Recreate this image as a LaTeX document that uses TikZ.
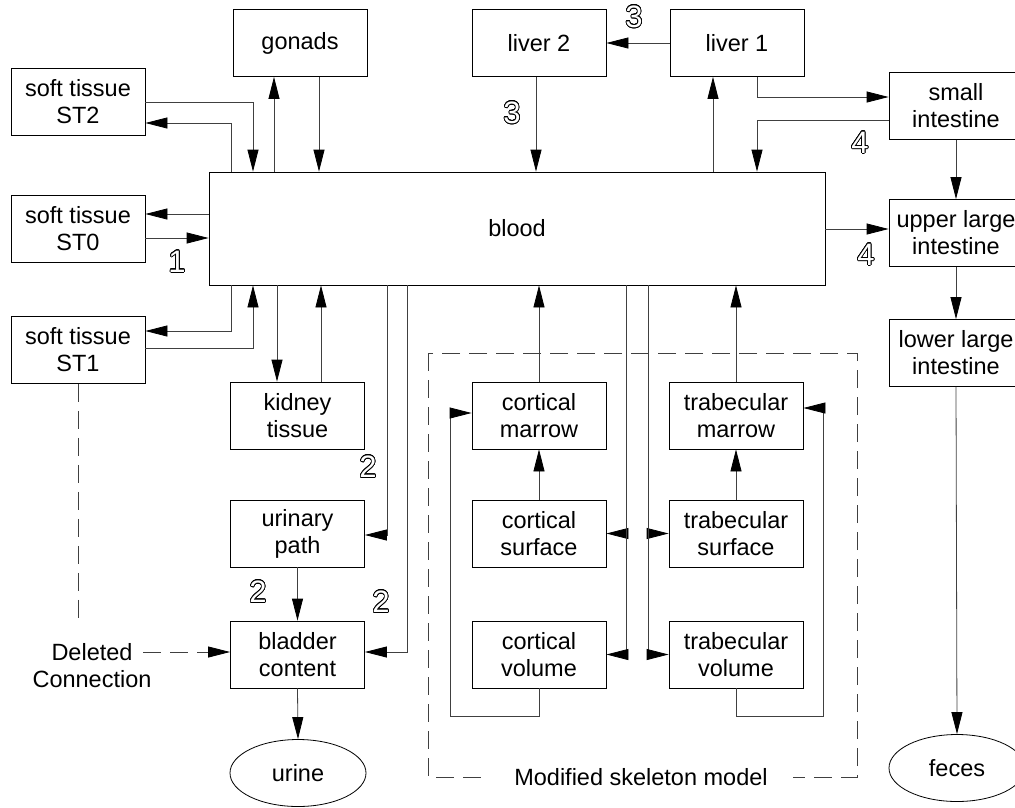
\documentclass[tikz,border=0pt]{standalone}
\usepackage{fontspec}
\setmainfont{Liberation Sans}
\usepackage[copies]{contour}
\contourlength{0.7pt}
\contournumber{24}
\usetikzlibrary{arrows.meta,shapes.geometric}
\newcommand{\hollow}[1]{\contour{black}{\textcolor{white}{#1}}}
\begin{document}
\begin{tikzpicture}[x=1pt,y=-1pt,
    font=\fontsize{23.5}{27}\selectfont,
    box/.style={draw, line width=0.8pt, minimum width=134pt, minimum height=67pt, inner sep=2pt, align=center},
    pool/.style={draw, line width=0.8pt, ellipse, minimum width=136pt, minimum height=67pt, inner sep=0pt},
    num/.style={font=\fontsize{31}{31}\selectfont, inner sep=0pt},
    flow/.style={draw=black!75, line width=0.8pt, -{Triangle[length=22pt,width=11pt,black]}},
    gone/.style={draw=black!75, line width=0.8pt, dash pattern=on 18pt off 9pt}]
  \useasboundingbox (0,0) rectangle (1015,807);
  \clip (0,0) rectangle (1015,807);
  \node[box] (st2) at (78,102) {soft tissue\\ST2};
  \node[box] (st0) at (78,229) {soft tissue\\ST0};
  \node[box] (st1) at (78,350) {soft tissue\\ST1};
  \node[box] (gonads) at (300,43) {gonads};
  \node[box] (liver2) at (539,43) {liver 2};
  \node[box] (liver1) at (737,43) {liver 1};
  \node[box] (smallint) at (956,106) {small\\intestine};
  \node[box] (upperli) at (956,233) {upper large\\intestine};
  \node[box] (lowerli) at (956,353) {lower large\\intestine};
  \node[pool] (feces) at (957,768) {feces};
  \node[box, minimum width=616pt, minimum height=113pt] (blood) at (517,228.5) {blood};
  \node[box] (kidney) at (297.5,415.5) {kidney\\tissue};
  \node[box] (urinary) at (297.5,533.5) {urinary\\path};
  \node[box] (bladder) at (297.5,654.5) {bladder\\content};
  \node[pool] (urine) at (298,773) {urine};
  \node[box] (cmarrow) at (539,415.5) {cortical\\marrow};
  \node[box] (csurface) at (539,533.5) {cortical\\surface};
  \node[box] (cvolume) at (539,654.5) {cortical\\volume};
  \node[box] (tmarrow) at (736,415.5) {trabecular\\marrow};
  \node[box] (tsurface) at (736,533.5) {trabecular\\surface};
  \node[box] (tvolume) at (736,654.5) {trabecular\\volume};
  \node[align=center] (deleted) at (92,666) {Deleted\\Connection};
  \draw[gone] (428,353) rectangle (857,777);
  \node[fill=white, inner xsep=25pt, inner ysep=2pt] (skel) at (641,777) {Modified skeleton model};
  \node[num] (n1) at (177,262) {\hollow{1}};
  \node[num] (n2a) at (368,467) {\hollow{2}};
  \node[num] (n2b) at (258,592) {\hollow{2}};
  \node[num] (n2c) at (381,602) {\hollow{2}};
  \node[num] (n3a) at (634,17) {\hollow{3}};
  \node[num] (n3b) at (512,113) {\hollow{3}};
  \node[num] (n4a) at (860,143) {\hollow{4}};
  \node[num] (n4b) at (866,255) {\hollow{4}};
  \coordinate (st1end) at (78,618);
  \coordinate (delstart) at (143,652);
  \draw[gone] (st1.south) -- (st1end);
  \draw[gone, -{Triangle[length=22pt,width=11pt,black]}] (delstart) -- (bladder.west |- delstart);
  \begin{scope}[flow]
    \draw (st2.east |- 0,102) -| (253,0 |- blood.north);
    \draw (231,0 |- blood.north) |- (st2.east |- 0,123);
    \draw (274,0 |- blood.north) -- (274,0 |- gonads.south);
    \draw (319,0 |- gonads.south) -- (319,0 |- blood.north);
    \draw (blood.west |- 0,214) -- (st0.east |- 0,214);
    \draw (st0.east |- 0,238) -- (blood.west |- 0,238);
    \draw (231,0 |- blood.south) |- (st1.east |- 0,331);
    \draw (st1.east |- 0,348) -| (253,0 |- blood.south);
    \draw (277,0 |- blood.south) -- (277,0 |- kidney.north);
    \draw (321,0 |- kidney.north) -- (321,0 |- blood.south);
    \draw (387,0 |- blood.south) |- (urinary.east |- 0,535);
    \draw (407,0 |- blood.south) |- (bladder.east |- 0,652);
    \draw (urinary.south) -- (bladder.north);
    \draw (bladder.south) -- (urine.north);
    \draw (liver1.west) -- (liver2.east);
    \draw (536,0 |- liver2.south) -- (536,0 |- blood.north);
    \draw (713,0 |- blood.north) -- (713,0 |- liver1.south);
    \draw (757,0 |- liver1.south) |- (smallint.west |- 0,97);
    \draw (smallint.west |- 0,120) -| (757,0 |- blood.north);
    \draw (blood.east |- 0,229) -- (upperli.west |- 0,229);
    \draw (smallint.south) -- (upperli.north);
    \draw (upperli.south) -- (lowerli.north);
    \draw (lowerli.south) -- (feces.north);
    \draw (cmarrow.north) -- (cmarrow.north |- blood.south);
    \draw (csurface.north) -- (cmarrow.south);
    \draw (tmarrow.north) -- (tmarrow.north |- blood.south);
    \draw (tsurface.north) -- (tmarrow.south);
    \draw (626,0 |- blood.south) |- (csurface.east);
    \draw (626,0 |- blood.south) |- (cvolume.east);
    \draw (648,0 |- blood.south) |- (tsurface.west);
    \draw (648,0 |- blood.south) |- (tvolume.west);
    \draw (cvolume.south) |- (450,716) |- (cmarrow.west |- 0,413);
    \draw (tvolume.south) |- (823,716) |- (tmarrow.east |- 0,408);
  \end{scope}
\end{tikzpicture}
\end{document}
